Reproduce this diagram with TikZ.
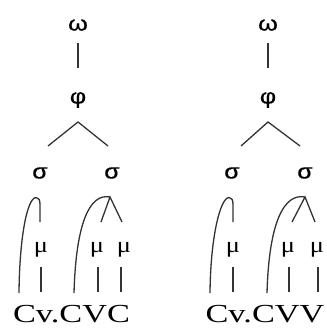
\documentclass[tikz,border=0pt]{standalone}
\usepackage{fontspec}
\setmainfont{Liberation Serif}
\newfontfamily\grk[FakeBold=0.5]{Liberation Sans}
\newcommand{\gl}[1]{\scalebox{1.2}[1]{#1}}
\newcommand{\sg}[1]{\scalebox{1.32}[1]{#1}}
\begin{document}
\begin{tikzpicture}[x=1pt,y=-1pt,
  gr/.style={inner sep=0pt, font=\grk\fontsize{21}{21}\selectfont},
  mu/.style={inner sep=0pt, anchor=base, font=\fontsize{22}{22}\selectfont},
  seg/.style={inner sep=0pt, anchor=base, font=\fontsize{26}{26}\selectfont},
  ln/.style={line width=1.3pt, draw=black!80}]
\useasboundingbox (0,0) rectangle (326,331);
\fill[white] (0,0) rectangle (326,331);

% ---------- left tree ----------
\node[gr] (w1) at (78,25) {\gl{ω}};
\node[gr] (p1) at (78,100) {\gl{φ}};
\node[gr] (s1a) at (40,173) {\gl{σ}};
\node[gr] (s1b) at (112,173) {\gl{σ}};
\node[mu] (m1a) at (41,252) {\gl{μ}};
\node[mu] (m1b) at (97,252) {\gl{μ}};
\node[mu] (m1c) at (124,252) {\gl{μ}};
\node[seg] (t1) at (71.5,322) {\sg{Cv.CVC}};

\coordinate (w1d) at (78,43);   \coordinate (p1u) at (78,68);
\coordinate (p1d) at (78,122);  \coordinate (b1l) at (48,146); \coordinate (b1r) at (108,146);
\coordinate (c1a) at (19,293);  \coordinate (s1ad) at (40,222);
\coordinate (c1b) at (74,293);  \coordinate (s1bd) at (110,197);
\coordinate (m1bu) at (101,222); \coordinate (m1cu) at (122,222);
\coordinate (m1ad) at (41,267); \coordinate (t1a) at (41,292);
\coordinate (m1bd) at (98,267); \coordinate (t1b) at (98,292);
\coordinate (m1cd) at (121,267); \coordinate (t1c) at (121,292);

\draw[ln] (w1d) -- (p1u);
\draw[ln] (b1l) -- (p1d) -- (b1r);
\draw[ln] (c1a) .. controls (19.5,238) and (27,198) .. (36,197.5)
          .. controls (39,197.5) and (40,200) .. (40,205) -- (s1ad);
\draw[ln] (c1b) .. controls (76,222) and (90,193) .. (s1bd);
\draw[ln] (m1bu) -- (s1bd) -- (m1cu);
\draw[ln] (m1ad) -- (t1a);
\draw[ln] (m1bd) -- (t1b);
\draw[ln] (m1cd) -- (t1c);

% ---------- right tree ----------
\node[gr] (w2) at (268,25) {\gl{ω}};
\node[gr] (p2) at (268,100) {\gl{φ}};
\node[gr] (s2a) at (232,173) {\gl{σ}};
\node[gr] (s2b) at (305,173) {\gl{σ}};
\node[mu] (m2a) at (233,252) {\gl{μ}};
\node[mu] (m2b) at (288,252) {\gl{μ}};
\node[mu] (m2c) at (317,252) {\gl{μ}};
\node[seg] (t2) at (265,322) {\sg{Cv.CVV}};

\coordinate (w2d) at (268,43);  \coordinate (p2u) at (268,68);
\coordinate (p2d) at (268,122); \coordinate (b2l) at (241,146); \coordinate (b2r) at (300,146);
\coordinate (c2a) at (210,293); \coordinate (s2ad) at (233,222);
\coordinate (c2b) at (267,293); \coordinate (s2bd) at (305,197);
\coordinate (m2bu) at (292,222); \coordinate (m2cu) at (315,222);
\coordinate (m2ad) at (233,267); \coordinate (t2a) at (233,292);
\coordinate (m2bd) at (289,267); \coordinate (t2b) at (289,292);
\coordinate (m2cd) at (318,267); \coordinate (t2c) at (318,292);

\draw[ln] (w2d) -- (p2u);
\draw[ln] (b2l) -- (p2d) -- (b2r);
\draw[ln] (c2a) .. controls (210.5,238) and (220,198) .. (229,197.5)
          .. controls (232,197.5) and (233,200) .. (233,205) -- (s2ad);
\draw[ln] (c2b) .. controls (269,222) and (284,193) .. (s2bd);
\draw[ln] (m2bu) -- (s2bd) -- (m2cu);
\draw[ln] (m2ad) -- (t2a);
\draw[ln] (m2bd) -- (t2b);
\draw[ln] (m2cd) -- (t2c);
\end{tikzpicture}
\end{document}
